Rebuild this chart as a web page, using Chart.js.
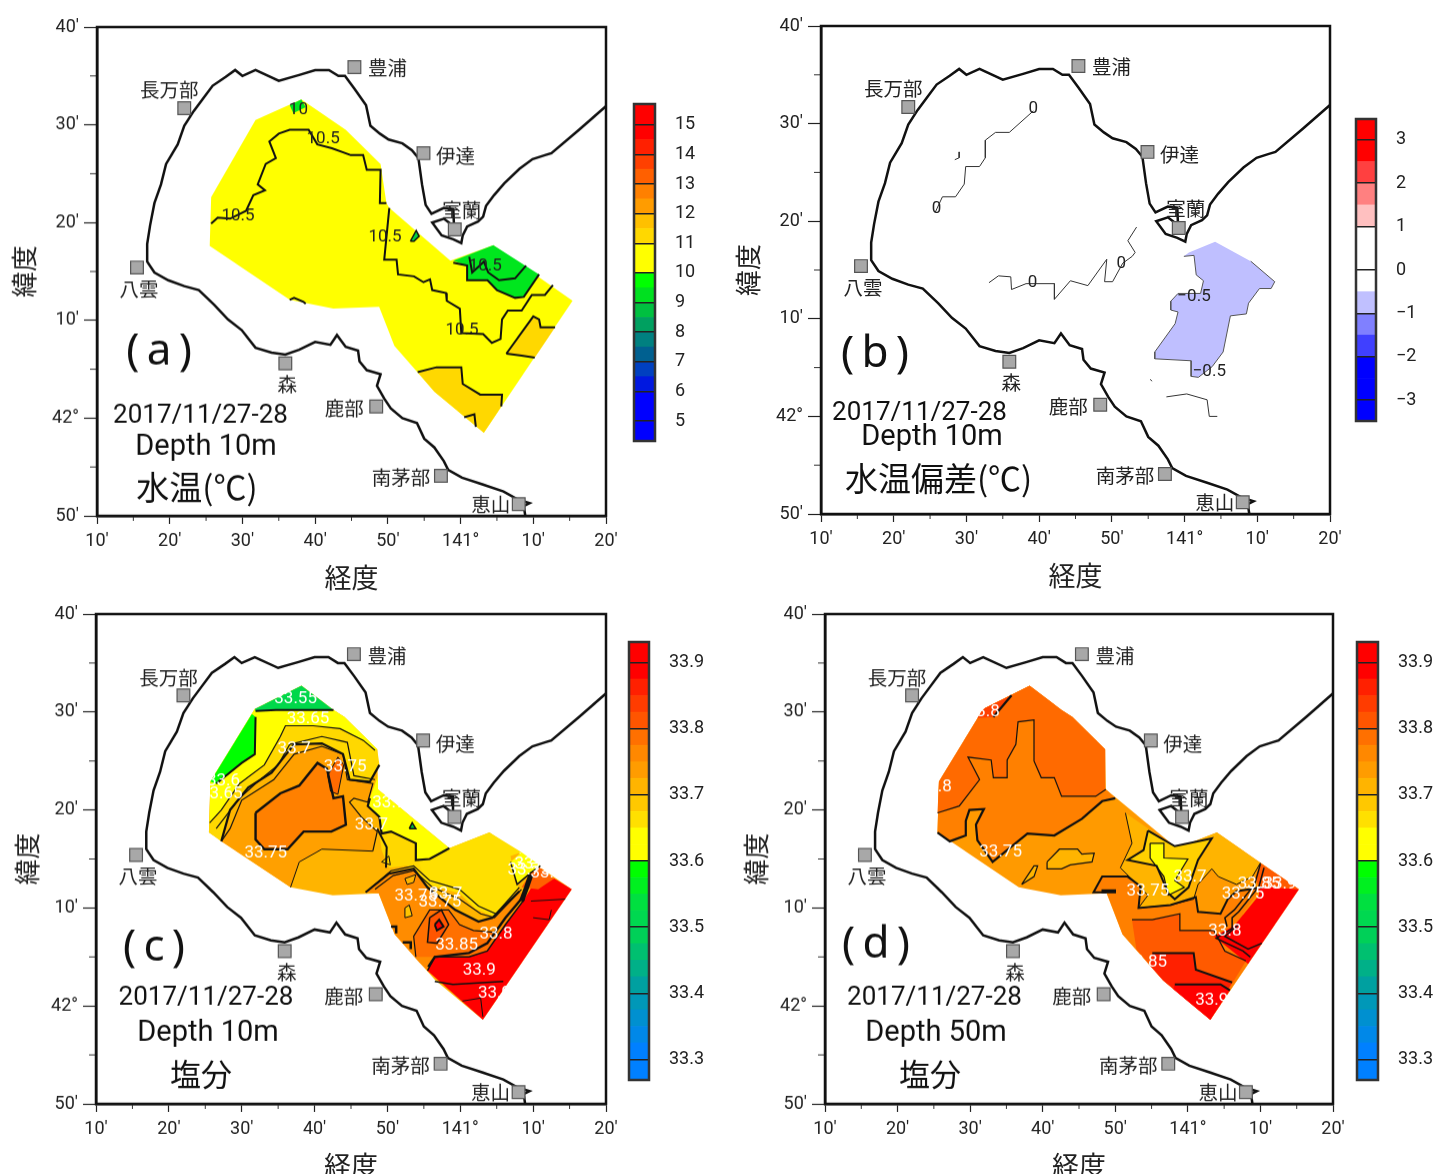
<!DOCTYPE html>
<html>
<head>
<meta charset="utf-8">
<script src="https://cdn.jsdelivr.net/npm/chart.js@4/dist/chart.umd.min.js"></script>
<style>
  html, body { margin: 0; padding: 0; background: #fff; }
  canvas { position: absolute; }
</style>
</head>
<body>
<script>
// x = minutes east of 140 deg, y = minutes north of 41 deg
const lonTickLabels = ['10′', '20′', '30′', '40′', '50′', '141°', '10′', '20′'];
const latTickLabels = ['50′', '42°', '10′', '20′', '30′', '40′'];

const coast = [[80,91.9],[76.3,89.5],[72.5,87.1],[71.6,86.9],[69.9,86.5],[68.1,85.5],[66,84],[64.6,82.8],[63.5,81.7],[63.1,80.6],[62.4,80.1],[60.9,79.6],[60.3,78.7],[60.1,77.9],[59,78.3],[57.4,78.7],[56.1,80],[57.7,80.4],[59.1,79.6],[59,81.4],[57.7,81.5],[56,80.9],[55.2,81.8],[54.7,83.9],[54.2,86.6],[53.3,87.4],[52,88.1],[50.1,88.5],[48.9,89.1],[47.6,89.9],[47,92],[45.4,93.7],[44.1,95],[43.2,95],[41.9,95.6],[40,95.6],[37.8,95.1],[35,94.5],[31.8,95.6],[30,95],[29,95.6],[27.7,94.9],[25.9,94],[24.5,92.6],[23.3,91.4],[22,89.9],[21.1,88],[19.5,86],[18.8,83.9],[17.9,82],[17.3,79.7],[16.9,77.8],[16.9,76],[17.9,74.9],[19.8,74.1],[22,73.5],[24,73.1],[26.1,71.6],[28,70.1],[29.9,69],[31.8,67.2],[34,66.7],[35.9,66.5],[37.8,67],[40,67.8],[42.1,67.5],[43,68.5],[44.2,67.3],[45.9,66.9],[46.1,65.8],[47.1,64.9],[49,64.5],[48.5,63.3],[49.5,62],[50.4,61],[52,60],[54,59.5],[55,57.9],[56.4,57],[57.7,55.6],[58.3,54.7],[60.2,53.9],[63.1,53.2],[65.9,52.5],[67.8,51.7],[69.5,51.3],[68.7,51],[68.9,50]];

const stationNames = ['豊浦', '長万部', '伊達', '室蘭', '八雲', '森', '鹿部', '南茅部', '恵山'];
const stationPoints = [[45.4,95.9],[22,91.7],[54.9,87.1],[59.2,79.3],[15.5,75.4],[35.9,65.6],[48.4,61.2],[57.3,54.1],[68,51.2]];

// panel (a) water temperature
const aSurvey = [[38.1,92.6],[44.2,89.5],[49,86],[49.8,82],[50.2,81.5],[58.6,76.1],[64.5,77.7],[75.4,72],[63.2,58.5],[56.4,62.7],[50.9,67.4],[48.8,71.4],[42.5,71.2],[36.5,72.1],[25.5,77.6],[25.7,82.6],[31.8,90.5]];
const aGreenEast = [[59,76.1],[64.5,77.7],[70.8,74.7],[68.7,72.4],[67.5,72.3],[65,73.1],[63.7,74.1],[60.9,74.1],[60.9,75.6]];
const aGreenTop = [[36.5,92],[38.1,92.6],[38.7,91.8],[37,91.2]];
const aGreenNeck = [[53.1,78.1],[53.9,79.2],[54.3,78.6],[53.6,78.1]];
const aGoldSouth = [[54.1,64.7],[56.7,65.2],[60.1,65.2],[60.3,63.5],[62.7,62.4],[65.7,62.4],[65.6,61.2],[63.2,58.5],[56.4,62.7]];
const aGoldEast = [[66.3,66.6],[70,70.4],[70.8,70.1],[71,69.3],[73,69.3],[70.2,66.2],[68.4,66.4]];
const aLine1 = [[25.7,79.9],[26.6,80.5],[28.3,80.4],[30.5,81.2],[31.5,82.8],[33.1,83.3],[32.1,83.9],[33.2,86],[34.6,86.6],[33.7,88.3],[35,89.1],[36.5,89.5],[39.1,89.5],[40.3,88],[42.3,87.6],[44.9,86.9],[46.6,86.9],[47.1,85.4],[49,85.4],[48.9,82],[49.8,82]];
const aLine2 = [[50.2,81.5],[49.5,76.2],[51.2,76.2],[51.4,74.7],[53.6,74.5],[54.9,73.9],[55.8,74.2],[56.1,73.1],[58,72.8],[58.1,72],[59.9,71.2],[60.1,68.7],[63.1,68.6],[64.3,67.7],[65.5,68.1],[65.7,70.1],[66.5,71],[68.4,71],[69.8,72.6],[71.6,72.6],[72.7,73.6]];
const aLine3 = [[36.5,72.1],[37.1,72.3],[38.4,71.9],[38.7,71.7]];
const aLine4 = [[60.5,60.1],[61.9,60.4],[62.1,59.1]];
const aLine5 = [[59,75.9],[60.9,75.6],[60.9,74.1],[63.7,74.1],[65,73.1],[67.5,72.3],[68.7,72.4],[70.8,74.7]];
const aLine6 = [[61.2,76.5],[61.6,74.9],[63.2,76],[63.8,74.9],[65.3,74.1],[67.5,74.3],[69,75.6]];
const aLabels = [['10.5',29.4,80.7],['10.5',41.1,88.6],['10.5',49.6,78.5],['10.5',60.2,69],['10.5',63.4,75.5],['10',37.7,91.5]];

// panel (b) temperature anomaly
const bBlue = [[59.9,76.4],[61.3,76.5],[61.6,74.5],[62.6,73.9],[62.2,72.6],[59.1,72.6],[58.1,71.8],[58.1,70.9],[59.1,70.7],[58.7,69.5],[55.9,66.6],[55.9,65.9],[60.9,65.7],[60.9,64.1],[61.9,64],[63.8,65.1],[65.3,66.6],[66.3,70.3],[68.5,70.5],[68.8,71.6],[70.3,73.1],[71.9,73.1],[72.4,73.8],[69.1,75.9],[64.2,77.9],[60.6,76.8]];
const bLine1 = [[39.2,91.3],[35.9,89.1],[34,89.1],[32.6,88.3],[32.6,86.5],[31.8,85.6],[29.9,85.6],[29.7,83.8],[28.5,82.5],[26.7,82.5],[25.7,80.9]];
const bLine2 = [[29,87.1],[29,86.5],[28.4,86.3]];
const bLine3 = [[33.1,73.7],[34.4,74.4],[36.1,74.3],[36.2,73],[38.2,73.6],[42.1,73.6],[42.1,72],[44.3,73.9],[46.7,73.4],[49.3,76.1],[49,73.8],[50.1,73.8],[51.5,75.7],[52.8,76.4],[53.2,76.8],[52.2,78],[53.4,79.4]];
const bLine4 = [[55.3,63.8],[55.5,63.6]];
const bLine5 = [[57.5,62],[60.3,62.3],[63.1,61.7],[63.4,60],[64.5,60]];
const bLabels = [['0',39.2,91.5],['0',25.9,81.3],['0',51.3,75.6],['0',39.1,73.7],['−0.5',61.3,72.3],['−0.5',63.4,64.6]];

// panels (c) and (d) salinity share the survey outline
const cdSurvey = [[38.2,92.7],[42.6,90.2],[44.1,89.5],[48.6,86.2],[48.7,82.1],[58.5,76.1],[64,77.7],[75.3,71.9],[63.1,58.6],[56.6,62.6],[51,67.3],[48.8,71.5],[42.5,71.3],[36.7,72.1],[25.5,77.7],[25.7,82.9],[31.8,90.3]];

const cGoldEdge = [[48.9,84.6],[47.6,82.9],[44.8,83.1],[43.9,85.7],[41,86.8],[37.2,86.7],[36,85.6],[34.1,83.8],[30.9,82.3],[28.4,80],[27.2,76.8]];
const cGold = [[25.5,77.7],[25.7,82.9],[31.8,90.3],[38.2,92.7],[42.6,90.2],[44.1,89.5],[48.6,86.2]].concat(cGoldEdge);
const cYellowEdge = [[48.3,86.1],[46.7,87.1],[43.5,88.3],[39.8,88.6],[36,88.6],[35.3,87.5],[33.1,84.6],[29.7,82.7],[27.2,80],[25.6,78.7]];
const cYellow = [[25.7,82.9],[31.8,90.3],[42.6,90.2],[44.1,89.5],[48.6,86.2]].concat(cYellowEdge);
const cGreenTopEdge = [[42.6,90.2],[34.7,90.2],[31.9,90.1]];
const cGreenTop = [[31.8,90.3],[38.2,92.7]].concat(cGreenTopEdge);
const cGreenWestEdge = [[31.9,89.5],[31.8,85.7],[30,84.8],[26.5,82.7]];
const cGreenWest = [[31.4,89.8]].concat(cGreenWestEdge, [[25.7,82.9]]);
const cAmber = [[27.2,76.8],[36.7,72.1],[37.9,74.7],[41,76],[48,75.8],[48.6,77.8],[46.4,79.3],[44.8,80.8],[45.4,81.2],[47.3,80.8],[48,82.7],[44.5,83.1],[43.9,85.7],[41,86.5],[37.2,85.7],[34.4,83.1],[30,81],[28.4,78.1]];
const cCore = [[31.9,79.7],[35.3,81.7],[37.9,82.5],[40.4,84.8],[41.7,84.2],[42.6,81.2],[43.9,81.4],[44.3,78.5],[42.3,77.8],[38.5,77.8],[36.3,76],[33.1,76],[31.9,77],[31.9,79.7]];
const cSpot = [[41.8,83.5],[43.2,85.4],[44,84.6],[43.2,81.6],[42.2,81.9],[41.8,83.5]];
const cYellowNeck = [[48.7,83.5],[48.7,82.1],[58.5,76.1],[55.8,75],[53.9,74.9],[53.9,76.6],[50.5,77.8],[49.2,77.6],[48.9,79.3],[47.3,80.4],[47.6,81.2]];
const cGoldEast = [[58.5,76.1],[64,77.7],[68.4,75.7],[66.9,75.3],[67.5,72.6],[68.1,72.1],[65,69],[62.1,69.9],[59.9,71.5],[55.5,72.4],[54.3,74.7]];
const cGoldNeck = [[48.9,77.6],[50.5,77.8],[53.9,76.6],[53.9,74.9],[55.8,75],[55.8,72.4],[52.7,74.3],[50.2,74.1],[49.2,75.9]];
const cOrangeSouthEdge = [[47,71.6],[50.2,73.5],[53.6,74],[55.5,72.1],[59.3,69.8],[62.5,68.6],[64.4,69],[68.1,71.7]];
const cOrangeSouth = cOrangeSouthEdge.concat([[68.8,71.3],[66.2,68.3],[63.7,65.6],[61.2,65],[56.8,65],[55.5,63.6],[54.3,64.5],[51,67.3],[48.8,71.5]]);
const cOrangeInner = [[53.9,65],[53.6,67.1],[55.8,69.8],[58.4,69.8],[59.9,68.3],[61.8,67.7],[65,67.5],[63.7,65.6],[61.2,65],[56.8,65]];
const cDeep = [[55.8,69],[57.4,69.8],[58.4,68.3],[56.8,66.4],[55.5,66.5],[55.8,69]];
const cRedSpot = [[56.5,68.3],[57.1,68.8],[57.7,68.1],[56.8,67.7],[56.5,68.3]];
const cPatch1 = [[52.4,70],[53,70.3],[53.4,69.2],[52.4,69],[52.4,70]];
const cPatch2 = [[52.4,73],[53.9,73.4],[53.6,72.6],[52.7,72.4],[52.4,73]];
const cPatch3 = [[49.2,74.7],[50.2,75.3],[50.4,74.4],[49.2,74.7]];
const cGreenSpot = [[53,78.1],[53.4,78.7],[53.9,78.1],[53,78.1]];
const cRed = [[70,72.4],[72.9,73],[75.3,71.9],[63.1,58.6],[55.5,63.6],[56.5,65],[61.2,65],[63.7,65.6],[66.2,68.3],[68.8,70.9]];
const cOrangeNE = [[68.4,72.1],[69.7,73.6],[70.3,74.5],[72.9,73],[70.7,71.9]];
const cYellowNE = [[66.9,74.7],[68.4,75.7],[71,74.3],[69.7,73.6],[67.8,72.4]];
const cBand1 = [[47.8,72.1],[50.5,73.8],[53.6,74.3],[55.8,72.8],[59.9,71.9],[62.5,70.2],[64.9,69.4],[68.1,72.1]];
const cBand2 = [[48.3,71.9],[50.8,73.3],[53.6,73.8],[56.2,72.1],[59.9,70.9],[62.8,69.4],[64.7,69],[68.4,71.9]];
const cBandNW = [[26.5,78.1],[29.7,81.2],[32.2,82.9],[35,84.6],[36.6,86.7],[41,87.5],[44.5,86.9],[45.4,83.5],[48.3,83.1]];
const cBandRed = [[55.6,64],[56.5,65],[61.2,65.4],[63.7,66.4],[66.2,69],[68.8,71.3]];
const cBlack = [[69.7,73.4],[69.1,72.1],[68.4,70.7]];
const cLine1 = [[56.5,62.5],[59,62.2],[65.9,62.5]];
const cLine2 = [[60.3,60.5],[62.8,60.8],[63.1,58.9]];
const cLine3 = [[69.7,70.7],[74.4,70.9]];
const cLine4 = [[70,69],[72.2,68.8],[72.5,69.8]];
const cLine5 = [[36.7,72.1],[37.9,74.7],[41,76],[48,75.8]];
const cLine6 = [[48.6,78.1],[49.9,76.2],[49.8,74.1]];
const cMark1 = [[50.5,68.1],[51.2,68.1],[51.2,67.4]];
const cMark2 = [[52.1,66.5],[53.2,66.5],[53.2,65.8]];
const cLabels = [['33.55',37.4,91.3],['33.65',39.1,89.3],['33.7',37.2,86.2],['33.75',44.2,84.4],['33.6',27.5,82.9],['33.65',27.2,81.6],['33.7',50.2,80.7],['33.7',47.8,78.5],['33.75',33.3,75.6],['33.75',53.9,71.2],['33.7',58,71.4],['33.75',57.2,70.6],['33.8',64.9,67.3],['33.85',59.5,66.2],['33.9',62.6,63.6],['33.9',64.7,61.3],['33.7',69.7,74.5],['33.75',69.4,73.8],['33.8',71.9,73.5]];

const dMidEdge = [[25.5,77.7],[27.2,76.8],[29.4,77.4],[29.4,78.9],[29.9,80],[31.9,80.1],[30.8,78.5],[31,76.9],[33.1,74.7],[35.1,75.9],[37.9,77.6],[41.6,77.4],[45.4,79.1],[48.2,80.9],[50,81.2]];
const dMid = dMidEdge.concat([[48.7,82.1],[48.6,86.2],[44.1,89.5],[42.6,90.2],[38.2,92.7],[31.8,90.3],[25.7,82.9]]);
const dUpEdge = [[25.5,79.7],[28.5,80.4],[31.3,83.1],[29.7,85.4],[32.9,85.1],[33.2,83.3],[35.1,83.3],[35.1,85.1],[36.3,86.7],[36.6,89],[38.8,89.2],[38.8,85],[39.8,83.3],[41.6,83.3],[42.6,81.4],[47.3,81.4],[48.7,82.1]];
const dUp = dUpEdge.concat([[48.6,86.2],[44.1,89.5],[42.6,90.2],[38.2,92.7],[31.8,90.3],[25.7,82.9]]);
const dCorner = [[31.8,90.3],[35.7,91.7],[33.2,89.5],[31,89.4]];
const dCornerEdge = [[35.7,91.7],[33.2,89.5]];
const dBlob = [[40.6,74.7],[42.3,76],[44.8,76],[45.4,75.5],[47.1,75.6],[46.8,74.7],[43.8,74.4],[42.6,74],[40.7,74],[40.6,74.7]];
const dSlim = [[37.1,72.4],[38.8,74.3],[39.3,74.3],[38.8,73.2],[37.1,72.4]];
const dAmberEdge = [[70,74.6],[68.9,73.2],[66.7,72.4],[64.2,73.2],[63.3,74],[61.4,72.4],[60.8,70.9],[57.6,70.3],[53.2,70],[54.5,71.3],[50.7,74.1],[52.3,76.6],[51.4,79.7]];
const dAmber = [[51.4,79.7],[58.5,76.1],[64,77.7]].concat(dAmberEdge);
const dGold = [[54.5,77.9],[58.2,76.3],[63.3,77.1],[61.4,74.9],[60.1,72.1],[58.2,70.9],[57.3,71.5],[55.7,74.3],[51.7,74.9],[53.9,75.9],[54.5,77.9]];
const dYellow = [[54.8,76.6],[56.7,76.6],[56.7,75.1],[60,75],[58.2,72.8],[59.5,72.1],[57.3,71.3],[56.7,73.2],[54.8,75.1],[54.8,76.6]];
const dSouthEdge = [[48.8,71.6],[47,71.6],[48.2,73.2],[51.7,73.2],[53.5,72.2],[53.2,70],[57.6,70.3],[61.1,71.1],[61.4,69.6],[64.5,69.4],[65.5,70.9],[66.7,71.7],[70.2,72.1]];
const dSouth = dSouthEdge.concat([[67.6,69.4],[68.3,64.3],[63.1,58.6],[56.6,62.6],[51,67.3]]);
const dRed1Edge = [[52.3,68.8],[55.1,68.8],[58.9,69.4],[58.9,67.7],[63.6,67.7],[65.1,65.6],[68,64.6]];
const dRed1 = dRed1Edge.concat([[63.1,58.6],[56.6,62.6],[52.9,65.8]]);
const dRed2Edge = [[55.1,65.4],[60.8,65.4],[61.1,63.7],[66.1,62.4]];
const dRed2 = dRed2Edge.concat([[63.1,58.6],[56.6,62.6],[54.8,64.1]]);
const dRed3Edge = [[58.2,62.2],[64.5,62.2],[65.8,61.6]];
const dRed3 = dRed3Edge.concat([[63.1,58.6],[58,61.7]]);
const dRedEast = [[69.8,72.1],[71.7,72.1],[75.3,71.9],[68.3,64.3],[63.6,67.1],[66.4,68.2],[69.8,71.3]];
const dOrangeNE = [[70,74.6],[73.2,73],[75.3,71.9],[71.7,72.1],[69.8,72.1],[69.3,73]];
const dLine1 = [[70,74.5],[69.2,72.4],[66.4,69.8],[65.1,69],[65.4,68.1]];
const dLine2 = [[70.5,74.1],[69.8,72.2],[67,69.6],[66.1,69],[66.1,67.9],[63.9,66.9],[67.6,65.6],[68.6,65]];
const dLine3 = [[67,68.3],[65.1,67.1],[68.3,65.8],[70.2,66.4]];
const dBlack = [[48.1,71.7],[50.1,71.7]];
const dLabels = [['33.8',31.8,90],['33.8',25.2,82.3],['33.75',34.2,75.7],['33.75',54.5,71.7],['33.7',60.3,73.1],['33.75',67.6,71.4],['33.85',69.8,72.4],['33.9',72.7,72.4],['33.8',65.1,67.6],['33.85',54.2,64.4],['33.9',63.3,60.6]];

// colour bars
const tempEdges = [4.33,5,5.5,6,6.5,7,7.5,8,8.5,9,9.5,10,10.5,11,11.5,12,12.5,13,13.5,14,14.5,15,15.7];
const tempColors = ['#0000ff','#0000ff','#0000ff','#0018e0','#0040c0','#006090','#008080','#00a060','#00c040','#00e020','#00ff00','#ffff00','#ffff00','#ffd800','#ffc000','#ff9c00','#ff8000','#ff6000','#ff4000','#ff2000','#ff0000','#ff0000'];
const tempTicks = [5,6,7,8,9,10,11,12,13,14,15];
const tempTickLabels = ['5','6','7','8','9','10','11','12','13','14','15'];

const anomEdges = [-3.48,-3,-2.5,-2,-1.5,-1,-0.5,0,0.5,1,1.5,2,2.5,3,3.48];
const anomColors = ['#0000ff','#0000ff','#0000ff','#4040ff','#8080ff','#c0c0ff','#ffffff','#ffffff','#ffffff','#ffc0c0','#ff8080','#ff4040','#ff0000','#ff0000'];
const anomTicks = [-3,-2,-1,0,1,2,3];
const anomTickLabels = ['−3','−2','−1','0','1','2','3'];

const salEdges = [33.269,33.3,33.325,33.35,33.375,33.4,33.425,33.45,33.475,33.5,33.525,33.55,33.575,33.6,33.625,33.65,33.675,33.7,33.725,33.75,33.775,33.8,33.825,33.85,33.875,33.9,33.931];
const salColors = ['#0080ff','#0080ff','#0088e8','#0090d0','#0098b8','#00a0a0','#00b088','#00c070','#00d058','#00d850','#00e040','#00f020','#00ff00','#ffff00','#ffff00','#ffe000','#ffc800','#ffb400','#ff9c00','#ff8800','#ff7000','#ff5500','#ff3c00','#ff2000','#ff0000','#ff0000'];
const salTicks = [33.3,33.4,33.5,33.6,33.7,33.8,33.9];
const salTickLabels = ['33.3','33.4','33.5','33.6','33.7','33.8','33.9'];

const narrow = 'Roboto, sans-serif';
const cjk = '"Noto Sans CJK JP", sans-serif';
const inkColor = '#222';

function toXY(pts) {
  return pts.map(p => ({x: p[0], y: p[1]}));
}
function area(pts, color) {
  return {data: toXY(pts), showLine: true, fill: 'shape', backgroundColor: color, borderWidth: 0, pointRadius: 0};
}
function line(pts, width, color) {
  return {data: toXY(pts), showLine: true, fill: false, borderColor: color || '#111', borderWidth: width, pointRadius: 0, tension: 0};
}

const framePlugin = {
  id: 'frame',
  afterDraw(chart, args, opts) {
    const a = chart.chartArea, ctx = chart.ctx;
    ctx.save();
    ctx.strokeStyle = opts.color || '#111';
    ctx.lineWidth = opts.width || 2.5;
    ctx.strokeRect(a.left, a.top, a.right - a.left, a.bottom - a.top);
    ctx.restore();
  }
};

const mapTextPlugin = {
  id: 'mapText',
  afterDatasetsDraw(chart, args, opts) {
    const ctx = chart.ctx, xs = chart.scales.x, ys = chart.scales.y, a = chart.chartArea;
    ctx.save();
    ctx.textAlign = 'center';
    ctx.textBaseline = 'middle';

    ctx.fillStyle = opts.labelColor;
    ctx.font = '17px ' + narrow;
    opts.labels.forEach(l => ctx.fillText(l[0], xs.getPixelForValue(l[1]), ys.getPixelForValue(l[2])));

    // station names sit next to their squares
    const offsets = [[33,1],[-15,-18],[32,3],[7,-19],[2,21],[2,21],[-32,2],[-40,2],[-28,0]];
    ctx.fillStyle = inkColor;
    ctx.font = '19.5px ' + cjk;
    stationNames.forEach((name, i) => {
      const p = stationPoints[i];
      ctx.fillText(name, xs.getPixelForValue(p[0]) + offsets[i][0], ys.getPixelForValue(p[1]) + offsets[i][1]);
    });

    ctx.fillStyle = '#111';
    ctx.font = '26px ' + narrow;
    ctx.fillText('2017/11/27-28', a.left + opts.date[0], a.top + opts.date[1]);
    ctx.font = '29px ' + narrow;
    ctx.fillText(opts.depth[2], a.left + opts.depth[0], a.top + opts.depth[1]);
    ctx.font = opts.title[3] + 'px ' + cjk;
    ctx.fillText(opts.title[2], a.left + opts.title[0], a.top + opts.title[1]);
    ctx.font = '44px "Noto Sans", sans-serif';
    ctx.fillText(opts.tag[2], a.left + opts.tag[0], a.top + opts.tag[1]);

    // minor ticks every 5 minutes
    ctx.strokeStyle = '#333';
    ctx.lineWidth = 1;
    ctx.beginPath();
    [15,25,35,45,55,65,75].forEach(v => {
      const px = xs.getPixelForValue(v);
      ctx.moveTo(px, a.bottom);
      ctx.lineTo(px, a.bottom + 5);
    });
    [55,65,75,85,95].forEach(v => {
      const py = ys.getPixelForValue(v);
      ctx.moveTo(a.left, py);
      ctx.lineTo(a.left - 7, py);
    });
    ctx.stroke();
    ctx.restore();
  }
};

function addCanvas(left, top, width, height) {
  const c = document.createElement('canvas');
  c.width = width;
  c.height = height;
  c.style.left = left + 'px';
  c.style.top = top + 'px';
  c.style.width = width + 'px';
  c.style.height = height + 'px';
  document.body.appendChild(c);
  return c;
}

function drawMap(box, layers, text) {
  const canvasLeft = box.left - 96, canvasTop = box.top - 20;
  const canvasW = box.right - canvasLeft + 24, canvasH = box.bottom - canvasTop + 78;
  // painter's order: later entries go on top, Chart.js draws the first dataset last
  const datasets = layers.concat([
    line(coast, 2.5),
    {data: toXY(stationPoints), pointStyle: 'rect', pointRadius: 9, pointBackgroundColor: '#a8a8a8', pointBorderColor: '#555', pointBorderWidth: 1.2}
  ]).reverse();

  new Chart(addCanvas(canvasLeft, canvasTop, canvasW, canvasH), {
    type: 'scatter',
    data: {datasets},
    options: {
      responsive: false,
      animation: false,
      layout: {padding: {left: box.titlePad, top: 20, right: 24, bottom: 0}},
      scales: {
        x: {
          type: 'linear', min: 10, max: 80,
          ticks: {stepSize: 10, autoSkip: false, maxRotation: 0, padding: 7, color: inkColor, font: {family: narrow, size: 18},
            callback: (v, i) => lonTickLabels[i]},
          grid: {drawOnChartArea: false, tickLength: 8, color: '#222', tickWidth: 1.2},
          border: {color: '#111', width: 2.5},
          title: {display: true, text: '経度', color: inkColor, font: {family: cjk, size: 27}, padding: {top: 2, bottom: 0}},
          afterFit: s => { s.height = 78; }
        },
        y: {
          type: 'linear', min: 50, max: 100,
          ticks: {stepSize: 10, autoSkip: false, padding: 5, color: inkColor, font: {family: narrow, size: 18},
            callback: (v, i) => latTickLabels[i]},
          grid: {drawOnChartArea: false, tickLength: 13, color: '#222', tickWidth: 1.2},
          border: {color: '#111', width: 2.5},
          title: {display: true, text: '緯度', color: inkColor, font: {family: cjk, size: 26}, padding: 0},
          afterFit: s => { s.width = 96 - box.titlePad; }
        }
      },
      plugins: {
        legend: {display: false},
        tooltip: {enabled: false},
        filler: {propagate: false},
        frame: {},
        mapText: text
      }
    },
    plugins: [framePlugin, mapTextPlugin]
  });
}

function drawBar(box, edges, colors, ticks, tickLabels) {
  // tick padding counts as overflow above and below the scale, so leave room for it
  const canvasW = box.right - box.left + 70, canvasH = box.bottom - box.top + 64;
  const datasets = colors.map((color, i) => ({data: [[edges[i], edges[i + 1]]], backgroundColor: color, borderWidth: 0, barPercentage: 1, categoryPercentage: 1}));
  new Chart(addCanvas(box.left - 4, box.top - 32, canvasW, canvasH), {
    type: 'bar',
    data: {labels: ['band'], datasets},
    options: {
      responsive: false,
      animation: false,
      layout: {padding: {left: 4, top: 32, bottom: 32, right: 0}},
      scales: {
        x: {display: false, stacked: true},
        y: {
          position: 'right',
          min: edges[0], max: edges[edges.length - 1],
          afterBuildTicks: s => { s.ticks = ticks.map(v => ({value: v})); },
          afterFit: s => { s.width = 66; },
          ticks: {padding: 20, color: inkColor, autoSkip: false, font: {family: narrow, size: 18},
            callback: (v, i) => tickLabels[i]},
          grid: {z: 1, color: '#222', lineWidth: 1.5, drawTicks: false},
          border: {display: false}
        }
      },
      plugins: {legend: {display: false}, tooltip: {enabled: false}, frame: {color: '#333', width: 2.5}}
    },
    plugins: [framePlugin]
  });
}

drawMap({left: 96.5, right: 605.5, top: 27, bottom: 515.5, titlePad: 8}, [
  area(aSurvey, '#ffff00'),
  area(aGreenEast, '#00e61e'),
  area(aGreenTop, '#00e61e'),
  area(aGreenNeck, '#00d040'),
  area(aGoldSouth, '#ffd800'),
  area(aGoldEast, '#ffd800'),
  line(aLine1, 2), line(aLine2, 2), line(aLine3, 2), line(aLine4, 2), line(aLine5, 2), line(aLine6, 2),
  line(aGreenNeck.concat([aGreenNeck[0]]), 1.5),
  line(aGoldSouth.slice(0, 7), 2),
  line(aGoldEast.concat([aGoldEast[0]]).slice(0, 5), 2),
  line(aGoldEast.slice(5).concat([aGoldEast[0]]), 2)
], {
  labels: aLabels, labelColor: '#222',
  date: [103.5, 388], depth: [109, 420, 'Depth 10m'], title: [100, 459, '水温(℃)', 33], tag: [62, 324, '(\u2009a\u2009)']
});

drawMap({left: 821, right: 1330, top: 25.5, bottom: 514, titlePad: 8}, [
  area(bBlue, '#bfbfff'),
  line(bBlue.slice(0, 24), 1, '#555'),
  line(bLine1, 1, '#333'), line(bLine2, 1, '#333'), line(bLine3, 1, '#333'), line(bLine4, 1, '#333'), line(bLine5, 1, '#333')
], {
  labels: bLabels, labelColor: '#222',
  date: [98.5, 387], depth: [111, 412, 'Depth 10m'], title: [117.6, 452, '水温偏差(℃)', 33], tag: [54, 328, '(\u2009b\u2009)']
});

drawMap({left: 95.5, right: 605.5, top: 614, bottom: 1103.5, titlePad: 12}, [
  area(cdSurvey, '#ffb400'),
  area(cGold, '#ffd800'),
  area(cYellow, '#ffff00'),
  area(cGreenTop, '#00d84a'),
  area(cGreenWest, '#00ff00'),
  area(cAmber, '#ffa000'),
  area(cCore, '#ff8000'),
  area(cSpot, '#ff6a00'),
  area(cYellowNeck, '#ffff00'),
  area(cGoldNeck, '#ffd800'),
  area(cGoldEast, '#ffe000'),
  area(cOrangeSouth, '#ff8c00'),
  area(cOrangeInner, '#ff7000'),
  area(cDeep, '#ff5500'),
  area(cRedSpot, '#ff0000'),
  area(cPatch1, '#ffc400'),
  area(cPatch2, '#ffb400'),
  area(cPatch3, '#ffd800'),
  area(cGreenSpot, '#00c040'),
  area(cRed, '#ff0000'),
  area(cOrangeNE, '#ff6000'),
  area(cYellowNE, '#ffff00'),
  line(cGoldEdge, 2.2), line(cYellowEdge, 1.2), line(cBandNW, 1.2),
  line(cGreenTopEdge, 2), line(cGreenWestEdge, 2),
  line(cAmber.slice(4).concat([cAmber[0]]), 1.2), line(cLine5, 1),
  line(cCore, 2.4), line(cSpot, 1), line(cOrangeInner.slice(0, 7), 1.2), line(cDeep, 1.5), line(cRedSpot, 2), line(cPatch1, 1), line(cPatch2, 1), line(cPatch3, 1), line(cGreenSpot, 1.5),
  line(cYellowNeck.slice(2, 11), 2.2), line(cLine6, 2),
  line(cOrangeSouthEdge, 2.2), line(cBand1, 1.2), line(cBand2, 1.2),
  line(cBandRed, 2.4), line(cRed.slice(4), 1.5), line(cBlack, 5),
  line(cLine1, 1.5), line(cLine2, 1), line(cLine3, 1), line(cLine4, 1), line(cMark1, 2.5), line(cMark2, 2.5),
  line(cYellowNE.slice(2).concat([cYellowNE[0]]), 1.5)
], {
  labels: cLabels, labelColor: '#ffffff',
  date: [110, 383], depth: [112, 419, 'Depth 10m'], title: [105, 459, '塩分', 31], tag: [58, 333, '(\u2009c\u2009)']
});

drawMap({left: 824.5, right: 1333, top: 614, bottom: 1103.5, titlePad: 12}, [
  area(cdSurvey, '#ff9a00'),
  area(dMid, '#ff8000'),
  area(dUp, '#ff6a00'),
  area(dCorner, '#ff4000'),
  area(dBlob, '#ffb400'),
  area(dSlim, '#ffb400'),
  area(dAmber, '#ffb400'),
  area(dGold, '#ffd000'),
  area(dYellow, '#ffff00'),
  area(dSouth, '#ff8000'),
  area(dRed1, '#ff5a00'),
  area(dRed2, '#ff2000'),
  area(dRed3, '#ff0000'),
  area(dOrangeNE, '#ff5a00'),
  area(dRedEast, '#ff0000'),
  line(dMidEdge, 2.2), line(dUpEdge, 1.2), line(dCornerEdge, 2.2),
  line(dBlob, 1.2), line(dSlim, 1.2), line(dAmberEdge, 1), line(dGold, 2), line(dYellow, 1.2),
  line(dSouthEdge, 2), line(dRed1Edge, 1.2), line(dRed2Edge, 2), line(dRed3Edge, 2),
  line(dLine1, 1.5), line(dLine2, 1.5), line(dLine3, 1.5), line(dBlack, 4)
], {
  labels: dLabels, labelColor: '#ffffff',
  date: [109.5, 383], depth: [111, 419, 'Depth 50m'], title: [105, 459, '塩分', 31], tag: [51, 330, '(\u2009d\u2009)']
});

drawBar({left: 634, right: 655, top: 104, bottom: 441}, tempEdges, tempColors, tempTicks, tempTickLabels);
drawBar({left: 1356, right: 1376, top: 119, bottom: 421}, anomEdges, anomColors, anomTicks, anomTickLabels);
drawBar({left: 629, right: 649, top: 642, bottom: 1080}, salEdges, salColors, salTicks, salTickLabels);
drawBar({left: 1357, right: 1378, top: 642, bottom: 1080}, salEdges, salColors, salTicks, salTickLabels);
</script>
</body>
</html>
